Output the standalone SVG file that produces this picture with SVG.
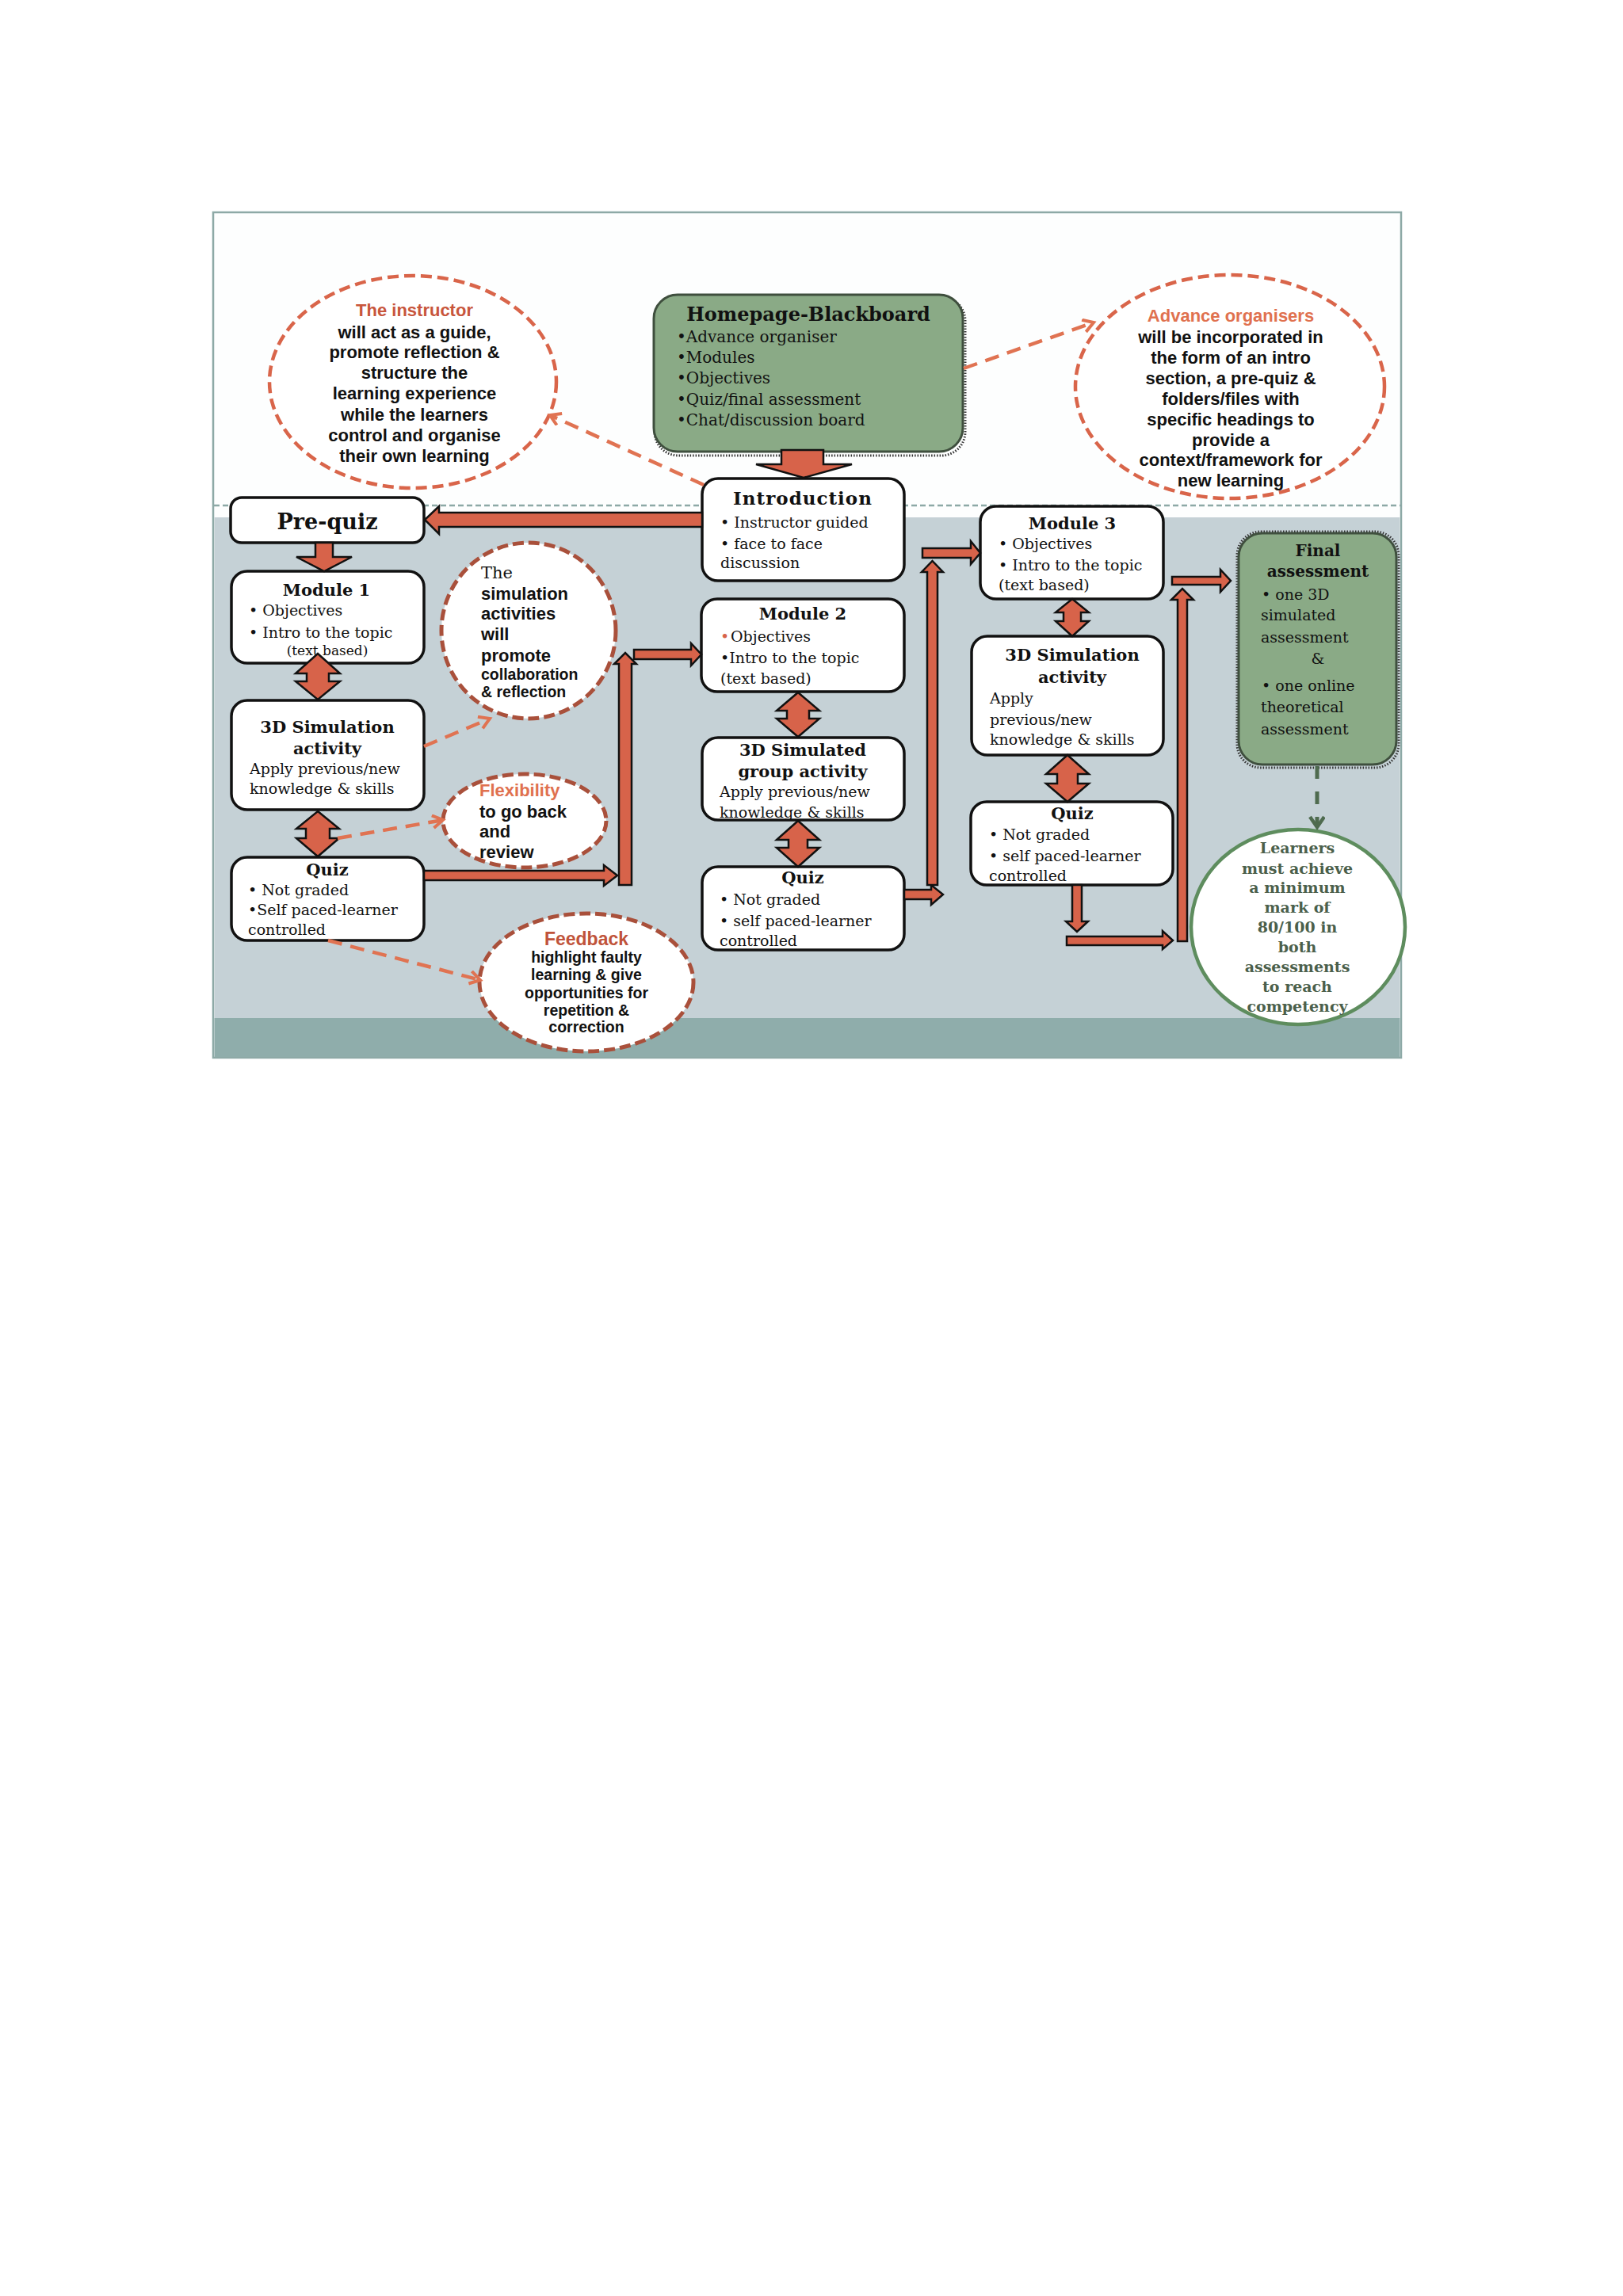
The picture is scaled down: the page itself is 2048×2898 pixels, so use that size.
<svg xmlns="http://www.w3.org/2000/svg" width="2048" height="2898" viewBox="0 0 2048 2898">
<style>
.serif{font-family:"DejaVu Serif","Liberation Serif",serif;fill:#111}
.t{font-size:19px}
.tb{font-size:21px;font-weight:bold}
.c{text-anchor:middle}
.sans{font-family:"Liberation Sans",Arial,sans-serif;font-weight:bold;fill:#111}
.s22{font-size:22px}
.box{fill:#fff;stroke:#111;stroke-width:3.5}
.gbox{fill:#8aaa86;stroke:#3f4f3e;stroke-width:3}
.shadow{fill:none;stroke:#333;stroke-width:3;stroke-dasharray:1.5 2}
.arr{fill:#d7634a;stroke:#111;stroke-width:2.5;stroke-linejoin:miter}
.dash{fill:none;stroke:#e07352;stroke-width:4.5;stroke-dasharray:18 11}
.ov1{fill:#fff;stroke:#d9654a;stroke-width:4.5;stroke-dasharray:14 7}
.ov2{fill:#fff;stroke:#a9503b;stroke-width:5;stroke-dasharray:14 6}
.red1{fill:#c8563c}
.red2{fill:#e0714f}
.lg{font-family:"DejaVu Serif","Liberation Serif",serif;font-weight:bold;font-size:19px;fill:#4b5f4b;text-anchor:middle}
</style>
<defs>
<marker id="chev" markerWidth="22" markerHeight="22" refX="15" refY="9" orient="auto" markerUnits="userSpaceOnUse">
<path d="M2,1 L15,9 L2,17" fill="none" stroke="#e07352" stroke-width="4"/>
</marker>
<marker id="chevg" markerWidth="22" markerHeight="24" refX="15" refY="10" orient="auto" markerUnits="userSpaceOnUse">
<path d="M2,1 L15,10 L2,19" fill="none" stroke="#4f6b4f" stroke-width="4.5"/>
</marker>
</defs>
<rect width="2048" height="2898" fill="#fff"/>
<g id="frame">
<rect x="269" y="268" width="1499" height="1067" fill="#fdfefe" stroke="#8da9a6" stroke-width="2.5"/>
<rect x="270.5" y="653" width="1496" height="632" fill="#c5d1d6"/>
<rect x="270.5" y="1285" width="1496" height="49" fill="#8fadab"/>
<line x1="270" y1="638" x2="1767" y2="638" stroke="#8da9a6" stroke-width="2.5" stroke-dasharray="7 4"/>
</g>
<g id="instructor">
<ellipse cx="521" cy="482" rx="181" ry="134" class="ov1"/>
<text class="sans s22 c" x="523"><tspan x="523" y="399" class="red1">The instructor</tspan><tspan x="523" y="427">will act as a guide,</tspan><tspan x="523" y="452">promote reflection &amp;</tspan><tspan x="523" y="478">structure the</tspan><tspan x="523" y="504">learning experience</tspan><tspan x="523" y="531">while the learners</tspan><tspan x="523" y="557">control and organise</tspan><tspan x="523" y="583">their own learning</tspan></text>
</g>
<g id="advance">
<ellipse cx="1552" cy="488" rx="195" ry="141" class="ov1"/>
<text class="sans s22 c"><tspan x="1553" y="406" class="red2">Advance organisers</tspan><tspan x="1553" y="433">will be incorporated in</tspan><tspan x="1553" y="459">the form of an intro</tspan><tspan x="1553" y="485">section, a pre-quiz &amp;</tspan><tspan x="1553" y="511">folders/files with</tspan><tspan x="1553" y="537">specific headings to</tspan><tspan x="1553" y="563">provide a</tspan><tspan x="1553" y="588">context/framework for</tspan><tspan x="1553" y="614">new learning</tspan></text>
</g>
<g id="homepage">
<rect x="826" y="375" width="392" height="200" rx="30" class="shadow"/>
<rect x="825" y="372" width="390" height="198" rx="30" class="gbox"/>
<text class="serif c" x="1020" y="405" style="font-size:24px;font-weight:bold">Homepage-Blackboard</text>
<text class="serif" style="font-size:20px"><tspan x="854" y="432">•Advance organiser</tspan><tspan x="854" y="458">•Modules</tspan><tspan x="854" y="484">•Objectives</tspan><tspan x="854" y="511">•Quiz/final assessment</tspan><tspan x="854" y="537">•Chat/discussion board</tspan></text>
</g>
<g id="prequiz">
<rect x="291" y="628" width="244" height="57" rx="14" class="box"/>
<text class="serif c" x="413" y="668" style="font-size:27px;font-weight:bold">Pre-quiz</text>
</g>
<g id="intro">
<rect x="886" y="604" width="255" height="129" rx="20" class="box"/>
<text class="serif c" x="1013" y="637" style="font-size:23px;font-weight:bold;letter-spacing:1px">Introduction</text>
<text class="serif t"><tspan x="909" y="666">• Instructor guided</tspan><tspan x="909" y="693">• face to face</tspan><tspan x="909" y="717">discussion</tspan></text>
</g>
<g id="module1">
<rect x="292" y="721" width="243" height="116" rx="20" class="box"/>
<text class="serif tb c" x="412" y="752">Module 1</text>
<text class="serif t"><tspan x="314" y="777">• Objectives</tspan><tspan x="314" y="805">• Intro to the topic</tspan></text>
<text class="serif c" x="413" y="827" style="font-size:17px">(text based)</text>
</g>
<g id="sim1">
<rect x="292" y="884" width="243" height="138" rx="20" class="box"/>
<text class="serif tb c"><tspan x="413" y="925">3D Simulation</tspan><tspan x="413" y="952">activity</tspan></text>
<text class="serif t"><tspan x="315" y="977">Apply previous/new</tspan><tspan x="315" y="1002">knowledge &amp; skills</tspan></text>
</g>
<g id="quiz1">
<rect x="292" y="1082" width="243" height="105" rx="20" class="box"/>
<text class="serif tb c" x="413" y="1105">Quiz</text>
<text class="serif t"><tspan x="313" y="1130">• Not graded</tspan><tspan x="313" y="1155">•Self paced-learner</tspan><tspan x="313" y="1180">controlled</tspan></text>
</g>
<g id="simcircle">
<ellipse cx="667" cy="796" rx="110" ry="111" class="ov2"/>
<text class="serif" x="607" y="730" style="font-size:21px">The</text>
<text class="sans s22"><tspan x="607" y="757">simulation</tspan><tspan x="607" y="782">activities</tspan><tspan x="607" y="808">will</tspan><tspan x="607" y="835">promote</tspan></text>
<text class="sans" style="font-size:19.5px"><tspan x="607" y="858">collaboration</tspan><tspan x="607" y="880">&amp; reflection</tspan></text>
</g>
<g id="flexibility">
<ellipse cx="662" cy="1036" rx="103" ry="59" class="ov2"/>
<text class="sans s22"><tspan x="605" y="1005" class="red2">Flexibility</tspan><tspan x="605" y="1032">to go back</tspan><tspan x="605" y="1057">and</tspan><tspan x="605" y="1083">review</tspan></text>
</g>
<g id="feedback">
<ellipse cx="740" cy="1240" rx="135" ry="87" class="ov2"/>
<text class="sans c" x="740" y="1193" style="font-size:23px;fill:#c0533a">Feedback</text>
<text class="sans c" style="font-size:19.5px"><tspan x="740" y="1215">highlight faulty</tspan><tspan x="740" y="1237">learning &amp; give</tspan><tspan x="740" y="1260">opportunities for</tspan><tspan x="740" y="1282">repetition &amp;</tspan><tspan x="740" y="1303">correction</tspan></text>
</g>
<g id="module2">
<rect x="885" y="756" width="256" height="117" rx="20" class="box"/>
<text class="serif tb c" x="1013" y="782">Module 2</text>
<text class="serif t"><tspan x="909" y="810" style="fill:#d7634a">•</tspan><tspan x="922" y="810">Objectives</tspan><tspan x="909" y="837">•Intro to the topic</tspan><tspan x="909" y="863">(text based)</tspan></text>
</g>
<g id="sim2">
<rect x="886" y="931" width="255" height="104" rx="20" class="box"/>
<text class="serif tb c"><tspan x="1013" y="954">3D Simulated</tspan><tspan x="1013" y="981">group activity</tspan></text>
<text class="serif t"><tspan x="908" y="1006">Apply previous/new</tspan><tspan x="908" y="1032">knowledge &amp; skills</tspan></text>
</g>
<g id="quiz2">
<rect x="886" y="1094" width="255" height="105" rx="20" class="box"/>
<text class="serif tb c" x="1013" y="1115">Quiz</text>
<text class="serif t"><tspan x="908" y="1142">• Not graded</tspan><tspan x="908" y="1169">• self paced-learner</tspan><tspan x="908" y="1194">controlled</tspan></text>
</g>
<g id="module3">
<rect x="1237" y="639" width="231" height="117" rx="20" class="box"/>
<text class="serif tb c" x="1353" y="668">Module 3</text>
<text class="serif t"><tspan x="1260" y="693">• Objectives</tspan><tspan x="1260" y="720">• Intro to the topic</tspan><tspan x="1260" y="745">(text based)</tspan></text>
</g>
<g id="sim3">
<rect x="1226" y="803" width="242" height="150" rx="20" class="box"/>
<text class="serif tb c"><tspan x="1353" y="834">3D Simulation</tspan><tspan x="1353" y="862">activity</tspan></text>
<text class="serif t"><tspan x="1249" y="888">Apply</tspan><tspan x="1249" y="915">previous/new</tspan><tspan x="1249" y="940">knowledge &amp; skills</tspan></text>
</g>
<g id="quiz3">
<rect x="1225" y="1012" width="255" height="105" rx="20" class="box"/>
<text class="serif tb c" x="1353" y="1034">Quiz</text>
<text class="serif t"><tspan x="1248" y="1060">• Not graded</tspan><tspan x="1248" y="1087">• self paced-learner</tspan><tspan x="1248" y="1112">controlled</tspan></text>
</g>
<g id="final">
<rect x="1561" y="671" width="204" height="298" rx="30" class="shadow"/>
<rect x="1563" y="673" width="199" height="292" rx="30" class="gbox"/>
<text class="serif c" style="font-size:20px;font-weight:bold"><tspan x="1663" y="702">Final</tspan><tspan x="1663" y="728">assessment</tspan></text>
<text class="serif t"><tspan x="1592" y="757">• one 3D</tspan><tspan x="1591" y="783">simulated</tspan><tspan x="1591" y="811">assessment</tspan><tspan x="1663" y="838" text-anchor="middle">&amp;</tspan><tspan x="1592" y="872">• one online</tspan><tspan x="1591" y="899">theoretical</tspan><tspan x="1591" y="927">assessment</tspan></text>
</g>
<g id="learners">
<ellipse cx="1638" cy="1170" rx="135" ry="123" fill="#fff" stroke="#5e8d5e" stroke-width="4.5"/>
<text class="lg"><tspan x="1637" y="1077">Learners</tspan><tspan x="1637" y="1103">must achieve</tspan><tspan x="1637" y="1127">a minimum</tspan><tspan x="1637" y="1152">mark of</tspan><tspan x="1637" y="1177">80/100 in</tspan><tspan x="1637" y="1202">both</tspan><tspan x="1637" y="1227">assessments</tspan><tspan x="1637" y="1252">to reach</tspan><tspan x="1637" y="1277">competency</tspan></text>
</g>
<g id="connectors">
<polygon class="arr" points="986,568 1039,568 1039,586 1075,586 1014,603 954,586 986,586"/>
<polygon class="arr" points="886,647 554,647 554,639 536,656 554,674 554,665 886,665"/>
<polygon class="arr" points="398,685 420,685 420,703 444,703 409,721 374,703 398,703"/>
<polygon class="arr" points="401,825 429,850 415,850 415,860 429,860 401,883 373,860 387,860 387,850 373,850"/>
<polygon class="arr" points="401,1024 428,1046 416,1046 416,1058 428,1058 401,1081 374,1058 386,1058 386,1046 374,1046"/>
<polygon class="arr" points="1007,874 1034,897 1021,897 1021,907 1034,907 1007,930 980,907 993,907 993,897 980,897"/>
<polygon class="arr" points="1007,1036 1034,1060 1019,1060 1019,1070 1034,1070 1007,1094 980,1070 995,1070 995,1060 980,1060"/>
<polygon class="arr" points="1353,756 1374,773 1364,773 1364,784 1374,784 1353,803 1332,784 1342,784 1342,773 1332,773"/>
<polygon class="arr" points="1347,953 1374,977 1360,977 1360,989 1374,989 1347,1012 1320,989 1334,989 1334,977 1320,977"/>
<polygon class="arr" points="535,1099 762,1099 762,1092 779,1105 762,1118 762,1111 535,1111"/>
<polygon class="arr" points="781,1117 781,838 775,838 789,824 803,838 797,838 797,1117"/>
<polygon class="arr" points="800,820 872,820 872,812 885,826 872,840 872,832 800,832"/>
<polygon class="arr" points="1141,1123 1175,1123 1175,1117 1190,1129 1175,1142 1175,1135 1141,1135"/>
<polygon class="arr" points="1170,1117 1170,722 1163,722 1176.5,708 1190,722 1183,722 1183,1117"/>
<polygon class="arr" points="1164,692 1225,692 1225,683 1237,698 1225,712 1225,704 1164,704"/>
<polygon class="arr" points="1353,1117 1365,1117 1365,1163 1373,1163 1359,1176 1345,1163 1353,1163"/>
<polygon class="arr" points="1346,1182 1467,1182 1467,1175 1480,1187 1467,1198 1467,1193 1346,1193"/>
<polygon class="arr" points="1486,1188 1486,757 1478,757 1492,743 1506,757 1498,757 1498,1188"/>
<polygon class="arr" points="1479,728 1540,728 1540,719 1553,733 1540,747 1540,738 1479,738"/>
<line class="dash" x1="888" y1="612" x2="694" y2="524" marker-end="url(#chev)"/>
<line class="dash" x1="1216" y1="465" x2="1380" y2="407" marker-end="url(#chev)"/>
<line class="dash" x1="535" y1="942" x2="618" y2="907" marker-end="url(#chev)"/>
<line class="dash" x1="426" y1="1058" x2="559" y2="1035" marker-end="url(#chev)"/>
<line class="dash" x1="414" y1="1187" x2="606" y2="1237" marker-end="url(#chev)"/>
<line x1="1662" y1="967" x2="1662" y2="1044" fill="none" stroke="#4f6b4f" stroke-width="5" stroke-dasharray="16 16" marker-end="url(#chevg)"/>
</g>
</svg>
